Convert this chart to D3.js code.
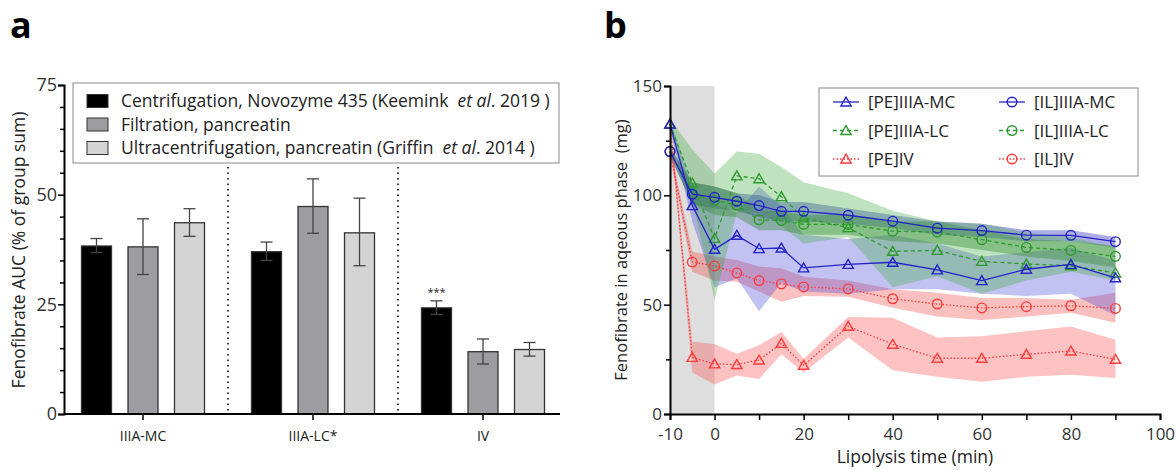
<!DOCTYPE html>
<meta charset="utf-8">
<script src="https://d3js.org/d3.v7.min.js"></script>
<style>
  body { margin: 0; background: #fff; }
  text { font-family: "Open Sans", "Noto Sans", sans-serif; fill: #222; }
</style>
<div id="chart"></div>
<script>
// ---- panel a data ----
var groups = ["IIIA-MC", "IIIA-LC*", "IV"];
var methods = ["Centrifugation", "Filtration", "Ultracentrifugation"];
var aucMean = [[38.3, 38.1, 43.6], [37.0, 47.3, 41.3], [24.2, 14.2, 14.7]];
var aucLow  = [[36.8, 31.8, 40.5], [35.0, 41.2, 33.8], [22.7, 11.4, 13.2]];
var aucHigh = [[40.0, 44.5, 46.8], [39.2, 53.6, 49.2], [25.8, 17.1, 16.3]];
var aTicks = [0, 25, 50, 75];

// ---- panel b data ----
var times = [-10, -5, 0, 5, 10, 15, 20, 30, 40, 50, 60, 70, 80, 90];
var peMC   = [132.6, 95.3, 75.3, 81.7, 75.6, 75.9, 66.8, 68.4, 69.4, 65.9, 61.0, 66.2, 68.4, 62.3];
var peMCLo = [130, 88, 58, 62, 47, 60, 56, 55, 57, 57, 55, 54, 55, 45];
var peMCHi = [135, 103, 96, 92, 104, 95, 82, 80, 82, 78, 72, 74, 76, 70];
var ilMC   = [120.0, 100.5, 99.1, 97.3, 95.3, 92.7, 92.7, 90.9, 88.2, 85.0, 83.9, 81.8, 81.7, 78.8];
var ilMCLo = [118, 96, 94, 93, 90, 88, 88, 87, 85, 82, 81, 79, 79, 76];
var ilMCHi = [122, 106, 104, 101, 100, 97, 97, 94, 91, 88, 87, 84, 84, 81];
var peLC   = [132.6, 105.6, 80.3, 108.9, 107.6, 99.4, 89.7, 85.2, 74.4, 74.8, 69.8, 68.6, 67.8, 64.5];
var peLCLo = [130, 98, 52, 92, 93, 86, 78, 81, 58, 63, 55, 61, 65, 61];
var peLCHi = [135, 121, 110, 120, 119, 113, 106, 101, 93, 88, 87, 83, 81, 76];
var ilLC   = [120.0, 101.0, 97.7, 95.5, 88.8, 88.5, 86.7, 86.7, 83.6, 83.2, 79.7, 76.2, 74.8, 72.1];
var ilLCLo = [118, 96, 91, 90, 84, 84, 82, 82, 79, 78, 75, 72, 70, 67];
var ilLCHi = [122, 106, 104, 101, 93, 93, 91, 91, 88, 88, 84, 80, 79, 77];
var peIV   = [132.6, 25.9, 22.9, 22.6, 24.7, 32.3, 22.3, 40.1, 31.9, 25.5, 25.5, 27.3, 28.8, 25.0];
var peIVLo = [130, 19, 13.5, 17.6, 16, 27.3, 19, 35, 20, 17, 14.8, 17, 17.9, 16.5];
var peIVHi = [135, 33, 32, 27.6, 31.4, 37.5, 25.3, 44.4, 44, 35, 35.5, 37.8, 40, 34];
var ilIV   = [120.0, 69.5, 67.7, 64.5, 61.0, 59.5, 58.1, 57.2, 52.7, 50.3, 48.5, 49.1, 49.5, 48.3];
var ilIVLo = [118, 65, 61, 60.5, 56, 51.3, 54, 53.6, 48.6, 44.6, 43, 44.6, 46.3, 41.7];
var ilIVHi = [122, 74.3, 72, 70.4, 67.4, 66.6, 62.8, 61, 57, 55.5, 53, 53, 52.3, 55.5];
var bYTicks = [0, 50, 100, 150];
var bXLabels = [-10, 0, 20, 40, 60, 80, 100];

var W = 1176, H = 470;
var svg = d3.select("#chart").append("svg").attr("width", W).attr("height", H);

// ================= panel a =================
var ya = d3.scaleLinear().domain([0, 75]).range([414, 85]);
var xa = d3.scaleBand().domain(groups).range([58, 568]);
var xs = d3.scaleBand().domain(methods).range([-61.5, 61.5]).paddingInner(0.355);
var fills = ["#000000", "#9d9da1", "#d4d4d4"];

svg.append("text").attr("x", 10).attr("y", 38).text("a")
  .style("font-size", "36px").style("font-weight", "bold").style("fill", "#000");

// dotted separators
[1, 2].forEach(function(i) {
  var xx = xa(groups[i]);
  svg.append("line").attr("x1", xx).attr("x2", xx).attr("y1", 90).attr("y2", 414)
    .style("stroke", "#222").style("stroke-width", 1.8).style("stroke-dasharray", "1.5,4");
});

var ga = svg.append("g");
groups.forEach(function(g, gi) {
  var cx = xa(g) + xa.bandwidth() / 2;
  methods.forEach(function(m, mi) {
    var x0 = cx + xs(m);
    ga.append("rect").attr("x", x0).attr("y", ya(aucMean[gi][mi]))
      .attr("width", xs.bandwidth()).attr("height", ya(0) - ya(aucMean[gi][mi]))
      .style("fill", fills[mi]).style("stroke", "#333").style("stroke-width", 1.3);
    var ex = x0 + xs.bandwidth() / 2;
    var ec = "#444";
    ga.append("line").attr("x1", ex).attr("x2", ex).attr("y1", ya(aucLow[gi][mi])).attr("y2", ya(aucHigh[gi][mi]))
      .style("stroke", ec).style("stroke-width", 1.3);
    [aucLow[gi][mi], aucHigh[gi][mi]].forEach(function(v) {
      ga.append("line").attr("x1", ex - 6).attr("x2", ex + 6).attr("y1", ya(v)).attr("y2", ya(v))
        .style("stroke", ec).style("stroke-width", 1.3);
    });
  });
});
// significance mark
svg.append("text").attr("x", xa("IV") + xa.bandwidth() / 2 + xs(methods[0]) + xs.bandwidth() / 2)
  .attr("y", ya(aucHigh[2][0]) - 5).attr("text-anchor", "middle").text("***")
  .style("font-size", "11px");

// axes a
var yAxisA = d3.axisLeft(ya).tickValues(d3.range(0, 76, 5)).tickSize(6)
  .tickFormat(function(d) { return aTicks.indexOf(d) >= 0 ? d : ""; });
var gya = svg.append("g").attr("transform", "translate(64,0)").call(yAxisA);
gya.selectAll(".tick line").attr("x2", function(d) { return aTicks.indexOf(d) >= 0 ? -6 : -4; });
var gxa = svg.append("g").attr("transform", "translate(0,414)")
  .call(d3.axisBottom(xa).tickSize(6).tickSizeOuter(0));
gxa.select(".domain").attr("d", "M64,0H560");
[gya, gxa].forEach(function(g) {
  g.select(".domain").style("stroke", "#000").style("stroke-width", 2);
  g.selectAll(".tick line").style("stroke", "#000").style("stroke-width", 1.5);
});
gya.selectAll(".tick text").style("font-size", "18px").style("fill", "#333").attr("x", -7);
gxa.selectAll(".tick text").style("font-size", "14px").style("fill", "#222").attr("y", 17);

svg.append("text").attr("transform", "translate(25,250) rotate(-90)").attr("text-anchor", "middle")
  .text("Fenofibrate AUC (% of group sum)").style("font-size", "17.5px");

// legend a
var legA = svg.append("g");
legA.append("rect").attr("x", 73).attr("y", 83).attr("width", 486).attr("height", 80)
  .style("fill", "#fff").style("stroke", "#888").style("stroke-width", 1);
var legTexts = [
  ["Centrifugation, Novozyme 435 (Keemink\u00a0\u00a0", "et al", ". 2019\u00a0)"],
  ["Filtration, pancreatin", "", ""],
  ["Ultracentrifugation, pancreatin (Griffin\u00a0\u00a0", "et al", ". 2014\u00a0)"]
];
legTexts.forEach(function(t, i) {
  var yy = 101 + i * 23.5;
  legA.append("rect").attr("x", 87).attr("y", yy - 6.5).attr("width", 21).attr("height", 13)
    .style("fill", fills[i]).style("stroke", "#333").style("stroke-width", 1);
  var tx = legA.append("text").attr("x", 121).attr("y", yy + 6).style("font-size", "17.5px");
  tx.append("tspan").text(t[0]);
  tx.append("tspan").text(t[1]).style("font-style", "italic");
  tx.append("tspan").text(t[2]);
});

// ================= panel b =================
var xb = d3.scaleLinear().domain([-10, 100]).range([670, 1160]);
var yb = d3.scaleLinear().domain([0, 150]).range([414, 86]);

svg.append("text").attr("x", 604).attr("y", 38).text("b")
  .style("font-size", "36px").style("font-weight", "bold").style("fill", "#000");

svg.append("rect").attr("x", xb(-10)).attr("y", yb(150)).attr("width", xb(0) - xb(-10))
  .attr("height", yb(0) - yb(150)).style("fill", "#dedede");

var series = [
  { name: "[PE]IIIA-MC", v: peMC, lo: peMCLo, hi: peMCHi, c: "#2323c8", band: "rgba(70,70,215,0.33)", dash: null, sym: "tri" },
  { name: "[IL]IIIA-MC", v: ilMC, lo: ilMCLo, hi: ilMCHi, c: "#2323c8", band: "rgba(50,50,190,0.40)", dash: null, sym: "circ" },
  { name: "[PE]IIIA-LC", v: peLC, lo: peLCLo, hi: peLCHi, c: "#2e9a2e", band: "rgba(60,170,60,0.33)", dash: "4,3", sym: "tri" },
  { name: "[IL]IIIA-LC", v: ilLC, lo: ilLCLo, hi: ilLCHi, c: "#2e9a2e", band: "rgba(50,140,50,0.40)", dash: "4,3", sym: "circ" },
  { name: "[PE]IV", v: peIV, lo: peIVLo, hi: peIVHi, c: "#ff3b3b", band: "rgba(255,70,70,0.33)", dash: "1.5,2", sym: "tri" },
  { name: "[IL]IV", v: ilIV, lo: ilIVLo, hi: ilIVHi, c: "#ff3b3b", band: "rgba(240,60,60,0.33)", dash: "1.5,2", sym: "circ" }
];
var bandOrder = [4, 5, 0, 1, 2, 3];
var lineOrder = [4, 5, 2, 3, 0, 1];

var area = d3.area().x(function(d) { return xb(d.t); })
  .y0(function(d) { return yb(d.lo); }).y1(function(d) { return yb(d.hi); });
var line = d3.line().x(function(d) { return xb(d.t); }).y(function(d) { return yb(d.v); });

function rows(s) {
  return times.map(function(t, i) { return { t: t, v: s.v[i], lo: s.lo[i], hi: s.hi[i] }; });
}

bandOrder.forEach(function(k) {
  var s = series[k];
  svg.append("path").datum(rows(s)).attr("d", area).style("fill", s.band).style("stroke", "none");
});

var triSym = d3.symbol().type(d3.symbolTriangle).size(46);
function marker(g, s, x, y) {
  if (s.sym === "tri") {
    g.append("path").attr("d", triSym).attr("transform", "translate(" + x + "," + (y + 1) + ")")
      .style("fill", "none").style("stroke", s.c).style("stroke-width", 1.4);
  } else {
    g.append("circle").attr("cx", x).attr("cy", y).attr("r", 4.8)
      .style("fill", "none").style("stroke", s.c).style("stroke-width", 1.4);
  }
}

lineOrder.forEach(function(k) {
  var s = series[k];
  svg.append("path").datum(rows(s)).attr("d", line).style("fill", "none")
    .style("stroke", s.c).style("stroke-width", 1.3).style("stroke-dasharray", s.dash);
  var gm = svg.append("g");
  rows(s).forEach(function(d) { marker(gm, s, xb(d.t), yb(d.v)); });
});

// axes b
var gyb = svg.append("g").attr("transform", "translate(670,0)")
  .call(d3.axisLeft(yb).tickValues(d3.range(0, 151, 25)).tickSize(6)
    .tickFormat(function(d) { return bYTicks.indexOf(d) >= 0 ? d : ""; }));
gyb.selectAll(".tick line").attr("x2", function(d) { return bYTicks.indexOf(d) >= 0 ? -6 : -4; });
var gxb = svg.append("g").attr("transform", "translate(0,414)")
  .call(d3.axisBottom(xb).tickValues(d3.range(-10, 101, 10)).tickSize(6)
    .tickFormat(function(d) { return bXLabels.indexOf(d) >= 0 ? d : ""; }));
[gyb, gxb].forEach(function(g) {
  g.select(".domain").style("stroke", "#000").style("stroke-width", 2);
  g.selectAll(".tick line").style("stroke", "#000").style("stroke-width", 1.5);
  g.selectAll(".tick text").style("font-size", "17px").style("fill", "#333");
});
gyb.selectAll(".tick text").attr("x", -8);
gxb.selectAll(".tick text").attr("y", 14);

svg.append("text").attr("transform", "translate(627,250) rotate(-90)").attr("text-anchor", "middle")
  .attr("xml:space", "preserve")
  .text("Fenofibrate in aqeous phase\u00a0\u00a0(mg)").style("font-size", "16.5px");
svg.append("text").attr("x", 915).attr("y", 463).attr("text-anchor", "middle")
  .text("Lipolysis time (min)").style("font-size", "17.5px");

// legend b
var legB = svg.append("g");
legB.append("rect").attr("x", 819).attr("y", 88).attr("width", 319).attr("height", 88)
  .style("fill", "#fff").style("stroke", "#888").style("stroke-width", 1);
[0, 2, 4, 1, 3, 5].forEach(function(k, i) {
  var s = series[k];
  var col = Math.floor(i / 3), row = i % 3;
  var x0 = 833 + col * 166, yy = 102 + row * 28.5;
  legB.append("line").attr("x1", x0).attr("x2", x0 + 26).attr("y1", yy).attr("y2", yy)
    .style("stroke", s.c).style("stroke-width", 1.3).style("stroke-dasharray", s.dash);
  marker(legB, s, x0 + 13, yy);
  legB.append("text").attr("x", x0 + 35).attr("y", yy + 6).text(s.name).style("font-size", "17px");
});
</script>
